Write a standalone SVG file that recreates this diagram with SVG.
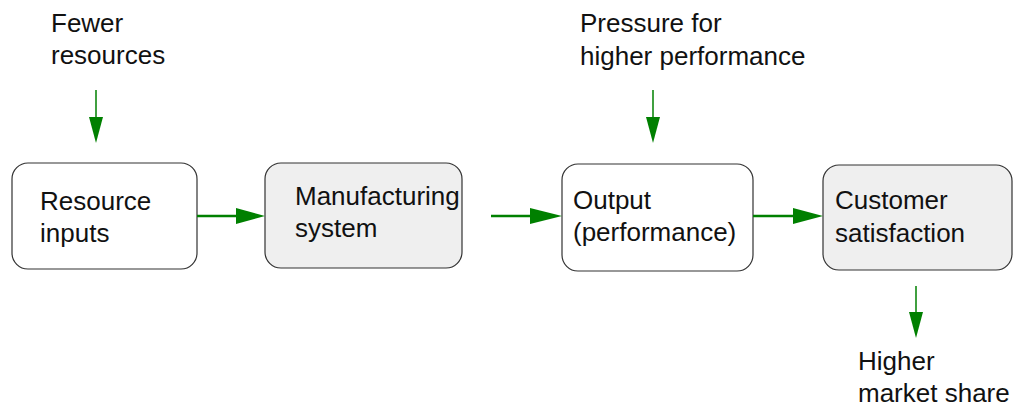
<svg xmlns="http://www.w3.org/2000/svg" width="1013" height="407" viewBox="0 0 1013 407">
<style>
text{font-family:"Liberation Sans",Arial,sans-serif;font-size:26px;fill:#111}
.box{stroke:#333;stroke-width:1.2}
.w{fill:#fff}
.g{fill:#efefef}
.h{stroke:#008000;stroke-width:2.6;fill:none}
.v{stroke:#008000;stroke-width:1.5;fill:none}
.hd{fill:#008000}
</style>
<rect width="1013" height="407" fill="#fff"/>
<g id="n-fewer"><text x="51" y="32">Fewer</text><text x="51" y="64">resources</text></g>
<g id="n-pressure"><text x="580" y="32">Pressure for</text><text x="580" y="65">higher performance</text></g>
<g id="n-resource"><rect class="box w" x="12" y="163" width="185" height="106" rx="16"/><text x="40" y="210">Resource</text><text x="40" y="242">inputs</text></g>
<g id="n-manufacturing"><rect class="box g" x="265" y="163" width="197" height="105" rx="16"/><text x="295" y="205">Manufacturing</text><text x="295" y="237">system</text></g>
<g id="n-output"><rect class="box w" x="562" y="164" width="191" height="107" rx="16"/><text x="573" y="209">Output</text><text x="573" y="241">(performance)</text></g>
<g id="n-customer"><rect class="box g" x="823" y="165" width="189" height="105" rx="16"/><text x="835" y="209">Customer</text><text x="835" y="242">satisfaction</text></g>
<g id="n-market"><text x="858" y="370">Higher</text><text x="858" y="402">market share</text></g>
<g id="connectors">
<line class="h" x1="197" y1="216" x2="238" y2="216"/><polygon class="hd" points="236,208 265,216 236,224"/>
<line class="h" x1="491" y1="216" x2="532" y2="216"/><polygon class="hd" points="530,208 562,216 530,224"/>
<line class="h" x1="753" y1="216" x2="795" y2="216"/><polygon class="hd" points="793,208 823,216 793,224"/>
<line class="v" x1="96" y1="90" x2="96" y2="120"/><polygon class="hd" points="89,117 96,143 103,117"/>
<line class="v" x1="653" y1="90" x2="653" y2="120"/><polygon class="hd" points="646,117 653,143 660,117"/>
<line class="v" x1="916" y1="286" x2="916" y2="315"/><polygon class="hd" points="909,312 916,338 923,312"/>
</g>
</svg>
